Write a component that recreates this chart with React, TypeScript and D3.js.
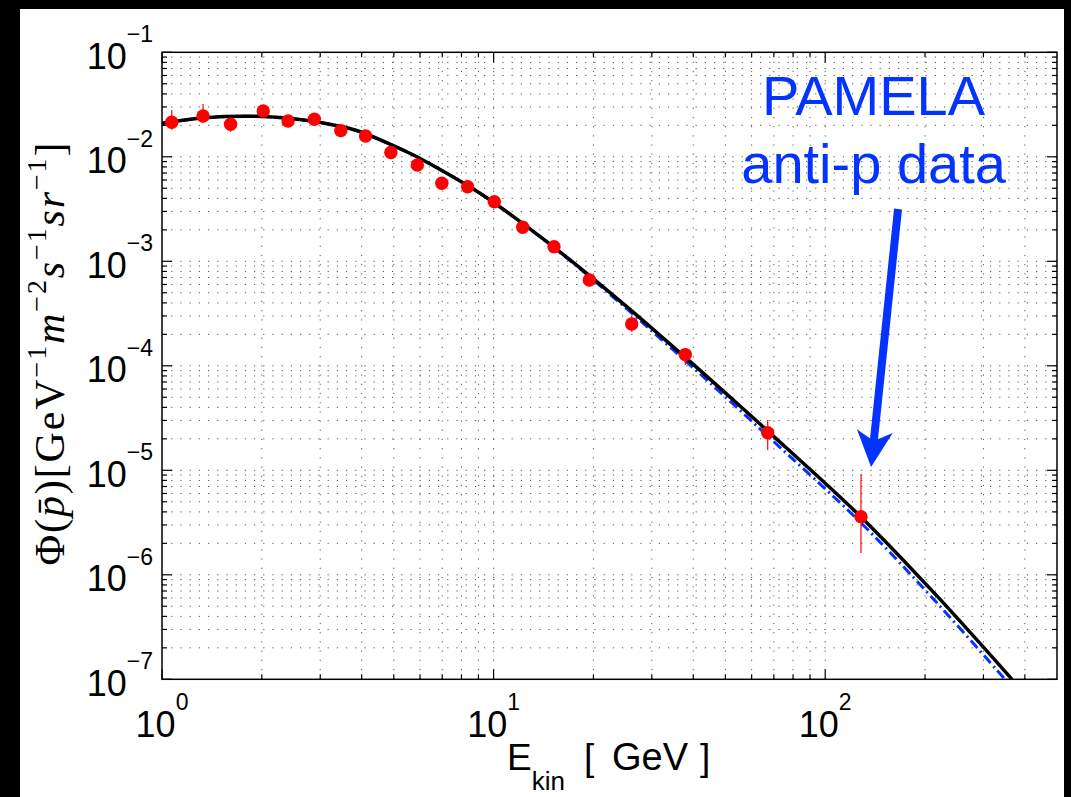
import React from "react";
import * as d3 from "d3";

// PAMELA antiproton data points (E_kin in GeV, flux)
const energy = [1.07, 1.33, 1.61, 2.02, 2.40, 2.88, 3.46, 4.11, 4.90, 5.89, 6.98, 8.35, 10.05, 12.24, 15.21, 19.44, 26.09, 37.85, 67.08, 128.2];
const flux = [0.0214, 0.0246, 0.0205, 0.0274, 0.0220, 0.0229, 0.0178, 0.0158, 0.0110, 0.00834, 0.00558, 0.00517, 0.00372, 0.00212, 0.00138, 6.62e-4, 2.51e-4, 1.28e-4, 2.29e-5, 3.6e-6];
const fluxLow = [0.0181, 0.0211, 0.0174, 0.0252, 0.0203, 0.0211, 0.0164, 0.0146, 0.0101, 0.00768, 0.00514, 0.00476, 0.00342, 0.00190, 0.00125, 5.71e-4, 2.12e-4, 1.02e-4, 1.56e-5, 1.62e-6];
const fluxHigh = [0.0281, 0.0320, 0.0235, 0.0298, 0.0239, 0.0249, 0.0193, 0.0172, 0.0120, 0.00906, 0.00606, 0.00562, 0.00404, 0.00234, 0.00152, 7.73e-4, 3.00e-4, 1.48e-4, 3.03e-5, 9.2e-6];

// model curves
const modelEnergy = [1, 1.348, 1.908, 2.404, 3.031, 3.819, 4.813, 5.726, 7.222, 9.099, 11.47, 14.46, 18.22, 25.2, 31.76, 40.02, 50.46, 66.63, 128.2, 216.8, 365.9];
const modelBlack = [0.02092, 0.02367, 0.02441, 0.02335, 0.02120, 0.01805, 0.01346, 0.01040, 0.006953, 0.004473, 0.002677, 0.001543, 8.65e-4, 3.68e-4, 1.958e-4, 1.031e-4, 5.36e-5, 2.425e-5, 3.58e-6, 6.32e-7, 1e-7];
const modelBlueEnergy = [1, 1.348, 1.908, 2.404, 3.031, 3.819, 4.813, 5.726, 7.222, 9.099, 11.47, 14.46, 18.22, 25.2, 31.76, 40.02, 50.46, 66.63, 128.2, 216.8, 348.4];
const modelBlue = [0.02092, 0.02367, 0.02441, 0.02335, 0.02120, 0.01805, 0.01346, 0.01040, 0.006953, 0.004473, 0.002677, 0.001528, 8.46e-4, 3.52e-4, 1.833e-4, 9.55e-5, 4.91e-5, 2.17e-5, 3.14e-6, 5.42e-7, 1e-7];

const xMajor = [1, 10, 100];
const xMinor = [2, 3, 4, 5, 6, 7, 8, 9, 20, 30, 40, 50, 60, 70, 80, 90, 200, 300, 400];
const xExp = ["0", "1", "2"];
const yMajorExp = [-7, -6, -5, -4, -3, -2, -1];
const yMinorMult = [2, 3, 4, 5, 6, 7, 8, 9];

// annotation (data coordinates)
const annoText1 = "PAMELA";
const annoText2 = "anti-p data";
const annoTextE = 139.9;
const annoText1F = 0.0251;
const annoText2F = 5.58e-3;
const arrowStart = { e: 165.8, f: 3.165e-3 };
const arrowTip = { e: 137.5, f: 1.076e-5 };

const L = 162, R = 1057, T = 52.3, B = 679.3;
const BLUE = "#0433ff";

export default function App() {
  const x = d3.scaleLog().domain([1, 500]).range([L, R]);
  const y = d3.scaleLog().domain([1e-7, 1e-1]).range([B, T]);

  const yMinor: number[] = [];
  yMajorExp.slice(0, -1).forEach((e) => yMinorMult.forEach((m) => yMinor.push(m * Math.pow(10, e))));
  const yMajor = yMajorExp.map((e) => Math.pow(10, e));

  const line = d3.line<[number, number]>().x((d) => x(d[0])).y((d) => y(d[1])).curve(d3.curveCatmullRom.alpha(0.5));
  const blackPath = line(modelEnergy.map((e, i) => [e, modelBlack[i]] as [number, number])) || "";
  const bluePath = line(modelBlueEnergy.map((e, i) => [e, modelBlue[i]] as [number, number])) || "";

  const grid = "#555";
  const dash = "1.2 8";

  // arrow geometry
  const sx = x(arrowStart.e), sy = y(arrowStart.f);
  const tx = x(arrowTip.e), ty = y(arrowTip.f);
  const ang = Math.atan2(ty - sy, tx - sx);
  const headLen = 36, headHalf = 18, notch = 26;
  const ux = Math.cos(ang), uy = Math.sin(ang);
  const px = -uy, py = ux;
  const bx = tx - ux * headLen, by = ty - uy * headLen;
  const nx = tx - ux * notch, ny = ty - uy * notch;
  const headPts = [
    [tx, ty],
    [bx + px * headHalf, by + py * headHalf],
    [nx, ny],
    [bx - px * headHalf, by - py * headHalf],
  ].map((p) => p.join(",")).join(" ");

  const sans = "'Liberation Sans', Arial, Helvetica, sans-serif";
  const serif = "'Liberation Serif', 'Times New Roman', serif";

  return (
    <svg width={1071} height={797} style={{ position: "absolute", left: 0, top: 0 }}>
      <rect x={0} y={0} width={1071} height={797} fill="#000" />
      <rect x={20} y={9} width={1044} height={788} fill="#fff" />
      <defs>
        <clipPath id="plotclip">
          <rect x={L} y={T} width={R - L} height={B - T} />
        </clipPath>
      </defs>

      {/* grid */}
      <g stroke={grid} strokeWidth={1} strokeDasharray={dash}>
        {[...xMajor, ...xMinor].filter((v) => v > 1).map((v) => (
          <line key={"gx" + v} x1={x(v)} x2={x(v)} y1={B} y2={T} />
        ))}
        {[...yMajor, ...yMinor].filter((v) => v > 1e-7 && v < 0.1).map((v) => (
          <line key={"gy" + v} x1={L} x2={R} y1={y(v)} y2={y(v)} />
        ))}
      </g>

      {/* ticks */}
      <g stroke="#000" strokeWidth={1.2}>
        {xMajor.map((v) => (
          <g key={"tx" + v}>
            <line x1={x(v)} x2={x(v)} y1={B} y2={B - 10} />
            <line x1={x(v)} x2={x(v)} y1={T} y2={T + 10} />
          </g>
        ))}
        {xMinor.map((v) => (
          <g key={"tmx" + v}>
            <line x1={x(v)} x2={x(v)} y1={B} y2={B - 5} />
            <line x1={x(v)} x2={x(v)} y1={T} y2={T + 5} />
          </g>
        ))}
        {yMajor.map((v) => (
          <g key={"ty" + v}>
            <line x1={L} x2={L + 10} y1={y(v)} y2={y(v)} />
            <line x1={R} x2={R - 10} y1={y(v)} y2={y(v)} />
          </g>
        ))}
        {yMinor.map((v) => (
          <g key={"tmy" + v}>
            <line x1={L} x2={L + 5} y1={y(v)} y2={y(v)} />
            <line x1={R} x2={R - 5} y1={y(v)} y2={y(v)} />
          </g>
        ))}
      </g>

      {/* data */}
      <g clipPath="url(#plotclip)">
        <path d={bluePath} fill="none" stroke={BLUE} strokeWidth={3} strokeDasharray="10 4 2 4" />
        <path d={blackPath} fill="none" stroke="#000" strokeWidth={3.5} />
        {energy.map((e, i) => (
          <line key={"eb" + i} x1={x(e)} x2={x(e)} y1={y(fluxLow[i])} y2={y(fluxHigh[i])} stroke="#ff0000" strokeWidth={1.2} />
        ))}
        {energy.map((e, i) => (
          <circle key={"pt" + i} cx={x(e)} cy={y(flux[i])} r={6.7} fill="#ff0000" />
        ))}
      </g>

      {/* box */}
      <rect x={L} y={T} width={R - L} height={B - T} fill="none" stroke="#000" strokeWidth={1.5} />

      {/* y tick labels */}
      {yMajorExp.map((e) => (
        <text key={"yl" + e} x={153} y={y(Math.pow(10, e)) + 16.5} textAnchor="end" fontFamily={sans} fill="#000">
          <tspan fontSize={36}>10</tspan>
          <tspan fontSize={23} dy={-26.5}>{"\u2212" + Math.abs(e)}</tspan>
        </text>
      ))}

      {/* x tick labels */}
      {xMajor.map((v, i) => (
        <text key={"xl" + v} x={x(v)} y={B + 57.7} textAnchor="middle" fontFamily={sans} fill="#000">
          <tspan fontSize={36}>10</tspan>
          <tspan fontSize={23} dy={-27}>{xExp[i]}</tspan>
        </text>
      ))}

      {/* x axis title */}
      <text x={507} y={770} fontFamily={sans} fontSize={37} fill="#000">
        <tspan>E</tspan>
        <tspan fontSize={26} dy={20}>kin</tspan>
      </text>
      <text y={770} fontFamily={sans} fontSize={37} fill="#000">
        <tspan x={584}>[</tspan>
        <tspan x={612} fontSize={38}>GeV</tspan>
        <tspan x={700}>]</tspan>
      </text>

      {/* y axis title */}
      <text transform="translate(64,354) rotate(-90)" textAnchor="middle" fontFamily={serif} fontSize={42} fill="#000" textLength={423} lengthAdjust="spacing">
        <tspan>Φ(</tspan>
        <tspan fontStyle="italic">p&#772;</tspan>
        <tspan>)[GeV</tspan>
        <tspan fontSize={28} dy={-18}>{"\u2212"}1</tspan>
        <tspan fontStyle="italic" dy={18}>m</tspan>
        <tspan fontSize={28} dy={-18}>{"\u2212"}2</tspan>
        <tspan fontStyle="italic" dy={18}>s</tspan>
        <tspan fontSize={28} dy={-18}>{"\u2212"}1</tspan>
        <tspan fontStyle="italic" dy={18}>sr</tspan>
        <tspan fontSize={28} dy={-18}>{"\u2212"}1</tspan>
        <tspan dy={18}>]</tspan>
      </text>

      {/* annotation */}
      <text x={x(annoTextE)} y={y(annoText1F)} textAnchor="middle" fontFamily={sans} fontSize={56} fill={BLUE}>{annoText1}</text>
      <text x={x(annoTextE)} y={y(annoText2F)} textAnchor="middle" fontFamily={sans} fontSize={56} fill={BLUE}>{annoText2}</text>
      <line x1={sx} y1={sy} x2={nx} y2={ny} stroke={BLUE} strokeWidth={8} />
      <polygon points={headPts} fill={BLUE} />
    </svg>
  );
}
